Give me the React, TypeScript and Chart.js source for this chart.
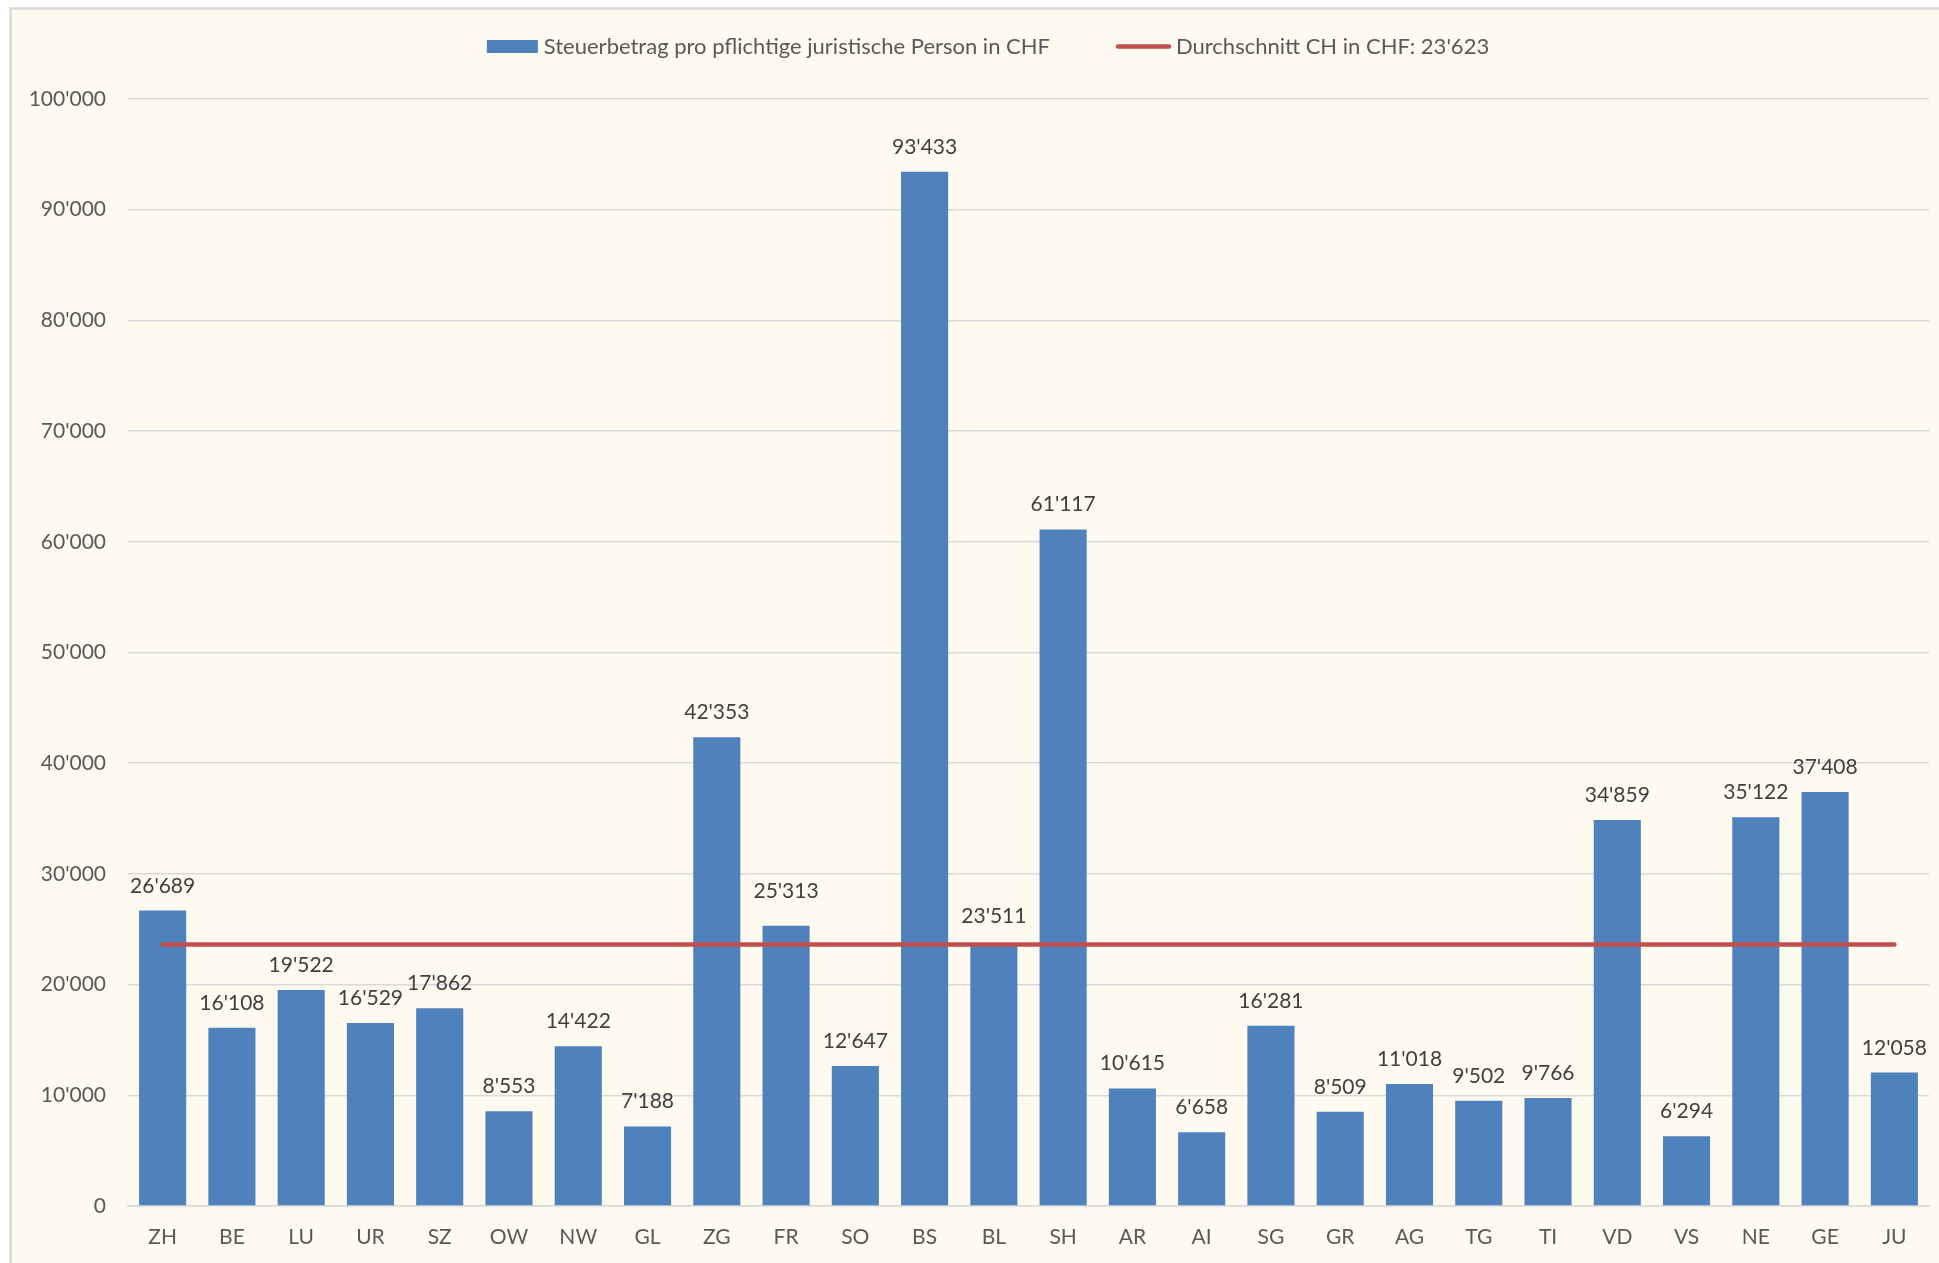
import React, { useEffect, useRef } from "react";
import { Chart, registerables } from "chart.js";

Chart.register(...registerables);

// ---- data ----
const categories = [
  "ZH", "BE", "LU", "UR", "SZ", "OW", "NW", "GL", "ZG", "FR", "SO", "BS", "BL",
  "SH", "AR", "AI", "SG", "GR", "AG", "TG", "TI", "VD", "VS", "NE", "GE", "JU",
];
const taxPerEntity = [
  26689, 16108, 19522, 16529, 17862, 8553, 14422, 7188, 42353, 25313, 12647, 93433, 23511,
  61117, 10615, 6658, 16281, 8509, 11018, 9502, 9766, 34859, 6294, 35122, 37408, 12058,
];
const swissAverage = 23623;
const averageSeries = categories.map(() => swissAverage);
const yMin = 0;
const yMax = 100000;
const yStep = 10000;
const barLabel = "Steuerbetrag pro pflichtige juristische Person in CHF";
const lineLabelPrefix = "Durchschnitt CH in CHF: ";

// ---- styles ----
const FONT = "Lato, 'Open Sans', sans-serif";
const FONT_SIZE = 21;
const LEGEND_FONT_SIZE = 22;
const BAR_COLOR = "#4F81BD";
const LINE_COLOR = "#C0504D";
const GRID_COLOR = "#D9D9D9";
const TICK_COLOR = "#595959";
const LABEL_COLOR = "#404040";
const BG = "#FEFAEF";
const W = 1939;
const H = 1263;
// extra upward shift (px) of a few value labels, as placed in the original
const labelLift: Record<string, number> = { FR: 10, BL: 5 };

const fmt = (v: number) => String(Math.round(v)).replace(/\B(?=(\d{3})+(?!\d))/g, "'");

const backgroundPlugin = {
  id: "bgPlugin",
  beforeDraw(chart: any) {
    const ctx = chart.ctx;
    ctx.save();
    ctx.fillStyle = "#FFFFFF";
    ctx.fillRect(0, 0, chart.width, chart.height);
    ctx.fillStyle = BG;
    ctx.fillRect(10, 8, chart.width - 10, chart.height - 8);
    ctx.strokeStyle = GRID_COLOR;
    ctx.lineWidth = 2.5;
    ctx.beginPath();
    ctx.moveTo(10.5, chart.height);
    ctx.lineTo(10.5, 8.5);
    ctx.lineTo(chart.width, 8.5);
    ctx.stroke();
    ctx.restore();
  },
};

const valueLabelPlugin = {
  id: "valueLabels",
  afterDatasetsDraw(chart: any) {
    const ctx = chart.ctx;
    const meta = chart.getDatasetMeta(0);
    const data = chart.data.datasets[0].data as number[];
    const labels = chart.data.labels as string[];
    ctx.save();
    ctx.font = `${FONT_SIZE}px ${FONT}`;
    ctx.fillStyle = LABEL_COLOR;
    ctx.textAlign = "center";
    ctx.textBaseline = "alphabetic";
    meta.data.forEach((bar: any, i: number) => {
      const lift = labelLift[labels[i]] || 0;
      ctx.fillText(fmt(data[i]), bar.x, bar.y - 18 - lift);
    });
    ctx.restore();
  },
};

const legendPlugin = {
  id: "customLegend",
  afterDraw(chart: any) {
    const ctx = chart.ctx;
    ctx.save();
    ctx.font = `${LEGEND_FONT_SIZE}px ${FONT}`;
    const t1 = barLabel;
    const t2 = lineLabelPrefix + fmt(swissAverage);
    const w1 = ctx.measureText(t1).width;
    const w2 = ctx.measureText(t2).width;
    const boxW = 51;
    const lineW = 55;
    const gapText = 6;
    const gapItems = 66;
    const total = boxW + gapText + w1 + gapItems + lineW + gapText + w2;
    const cy = 46.5;
    let x = 988.5 - total / 2;
    ctx.fillStyle = BAR_COLOR;
    ctx.fillRect(x, cy - 6.5, boxW, 13);
    x += boxW + gapText;
    ctx.fillStyle = TICK_COLOR;
    ctx.textAlign = "left";
    ctx.textBaseline = "middle";
    ctx.fillText(t1, x, cy);
    x += w1 + gapItems;
    ctx.strokeStyle = LINE_COLOR;
    ctx.lineWidth = 4.5;
    ctx.lineCap = "round";
    ctx.beginPath();
    ctx.moveTo(x + 2, cy);
    ctx.lineTo(x + lineW - 2, cy);
    ctx.stroke();
    x += lineW + gapText - 1;
    ctx.fillText(t2, x, cy);
    ctx.restore();
  },
};

export default function App() {
  const ref = useRef<HTMLCanvasElement | null>(null);

  useEffect(() => {
    if (!ref.current) return;
    Chart.defaults.font.family = FONT;
    const chart = new Chart(ref.current, {
      type: "bar",
      data: {
        labels: categories,
        datasets: [
          {
            type: "bar",
            label: barLabel,
            data: taxPerEntity,
            backgroundColor: BAR_COLOR,
            borderWidth: 0,
            barPercentage: 0.68,
            categoryPercentage: 1,
            order: 1,
          },
          {
            type: "line",
            label: lineLabelPrefix + fmt(swissAverage),
            data: averageSeries,
            borderColor: LINE_COLOR,
            backgroundColor: LINE_COLOR,
            borderWidth: 4.5,
            borderCapStyle: "round",
            pointRadius: 0,
            pointHoverRadius: 0,
            fill: false,
            order: 0,
          },
        ],
      } as any,
      options: {
        animation: false,
        responsive: false,
        devicePixelRatio: 1,
        layout: { padding: { top: 99, left: 0, right: 10, bottom: 0 } },
        plugins: {
          legend: { display: false },
          tooltip: { enabled: false },
        },
        scales: {
          x: {
            grid: { display: false, drawTicks: false },
            border: { display: true, color: GRID_COLOR, width: 1.5 },
            ticks: {
              color: TICK_COLOR,
              font: { size: FONT_SIZE, family: FONT },
              padding: 19,
              maxRotation: 0,
              autoSkip: false,
            },
            afterFit(scale: any) {
              scale.height = 57;
            },
          },
          y: {
            min: yMin,
            max: yMax,
            grid: { color: GRID_COLOR, lineWidth: 1.5, drawTicks: false },
            border: { display: false },
            ticks: {
              stepSize: yStep,
              color: TICK_COLOR,
              font: { size: FONT_SIZE, family: FONT },
              padding: 22,
              callback: (v: any) => fmt(Number(v)),
            },
            afterFit(scale: any) {
              scale.width = 128;
            },
          },
        },
      } as any,
      plugins: [backgroundPlugin, valueLabelPlugin, legendPlugin],
    });
    return () => chart.destroy();
  }, []);

  return (
    <div style={{ position: "fixed", left: 0, top: 0, width: W, height: H, overflow: "hidden" }}>
      <canvas ref={ref} width={W} height={H} style={{ width: W, height: H, display: "block" }} />
    </div>
  );
}
